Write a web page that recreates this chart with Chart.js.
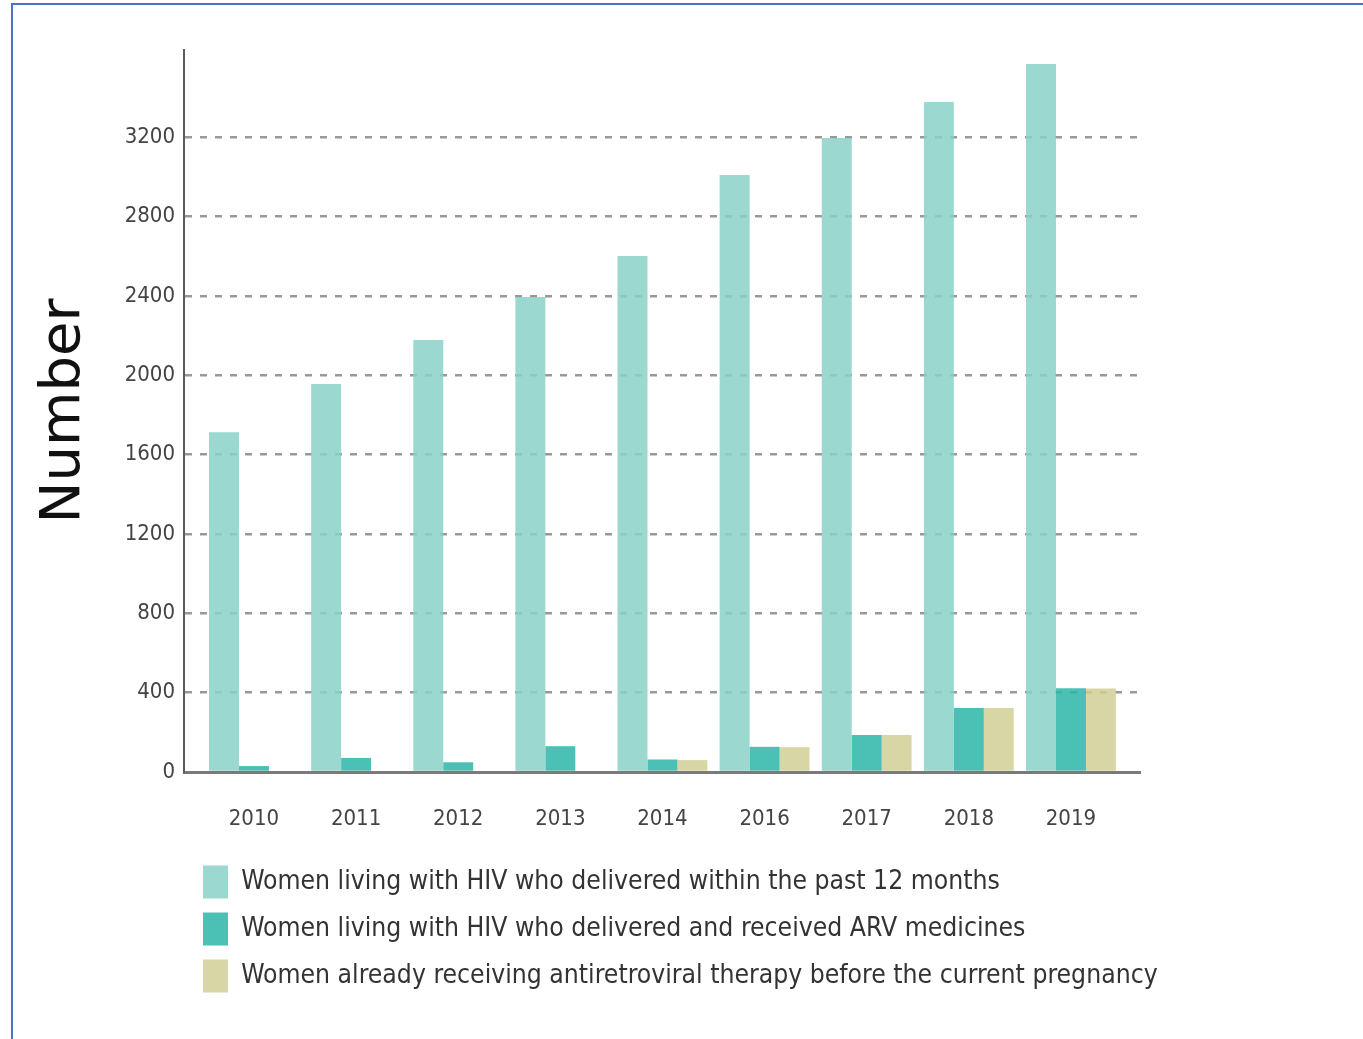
<!DOCTYPE html>
<html><head><meta charset="utf-8">
<script src="https://cdn.jsdelivr.net/npm/chart.js@4/dist/chart.umd.min.js"></script>
<style>
html,body{margin:0;padding:0;background:#fff;overflow:hidden;width:1363px;height:1039px;}
#frame{position:absolute;left:11px;top:3px;width:1420px;height:1100px;border:2px solid #4a72c8;box-sizing:border-box;}
#c{position:absolute;left:0;top:0;}
</style></head><body>
<div id="frame"></div>
<canvas id="c" width="1363" height="1039"></canvas>
<script>
const years = ['2010','2011','2012','2013','2014','2016','2017','2018','2019'];
const deliveredHIV = [1712, 1955, 2177, 2394, 2601, 3009, 3195, 3377, 3568];
const receivedARV  = [30, 71, 49, 130, 63, 127, 186, 323, 422];
const alreadyART   = [null, null, null, null, 60, 125, 186, 322, 421];
const seriesNames = [
  'Women living with HIV who delivered within the past 12 months',
  'Women living with HIV who delivered and received ARV medicines',
  'Women already receiving antiretroviral therapy before the current pregnancy'
];
const yTickValues = [0, 400, 800, 1200, 1600, 2000, 2400, 2800, 3200];
const yAxisMax = 3639;

const seriesValues = [deliveredHIV, receivedARV, alreadyART];
const seriesColors = ['rgba(137,209,199,0.85)', 'rgba(43,181,167,0.85)', 'rgba(210,207,150,0.85)'];
const narrow = "'Liberation Sans Narrow', 'DejaVu Sans Condensed', 'Roboto Condensed', sans-serif";

const legendPlacer = {
  id: 'legendPlacer',
  beforeDraw(chart) {
    const l = chart.legend;
    if (!l) return;
    l.left = 189; l.right = 1363; l.top = 851.5; l.bottom = 1039;
  }
};

new Chart(document.getElementById('c'), {
  type: 'bar',
  data: {
    datasets: seriesNames.map((name, k) => ({
      label: name,
      data: seriesValues[k].map((v, i) => ({x: i, y: v})),
      backgroundColor: seriesColors[k],
      borderWidth: 0,
      categoryPercentage: 0.88,
      barPercentage: 1.0
    }))
  },
  options: {
    responsive: false,
    animation: false,
    devicePixelRatio: 1,
    layout: {padding: {left: 0, top: 50, right: 223, bottom: 0}},
    plugins: {
      tooltip: {enabled: false},
      legend: {
        position: 'chartArea',
        align: 'start',
        labels: {
          boxWidth: 25, boxHeight: 33, padding: 14,
          color: '#333',
          font: {family: narrow, size: 26.3}
        }
      }
    },
    scales: {
      x: {
        type: 'linear',
        min: -0.685, max: 8.676,
        offset: false,
        grid: {display: false},
        border: {display: true, color: '#7a7a7a', width: 3},
        ticks: {
          stepSize: 1, includeBounds: false, autoSkip: false, maxRotation: 0,
          padding: 26, color: '#444',
          font: {family: narrow, size: 22},
          callback: v => (Number.isInteger(v) && years[v] !== undefined) ? years[v] : ''
        },
        afterFit: s => { s.height = 267; }
      },
      y: {
        min: 0, max: yAxisMax,
        grid: {color: '#999', lineWidth: 2.5, drawTicks: false},
        border: {display: true, color: '#5a5a5a', width: 2, dash: [7, 8]},
        ticks: {padding: 9, color: '#444', font: {family: narrow, size: 22},
          callback: v => String(v)},
        afterBuildTicks: s => { s.ticks = yTickValues.map(v => ({value: v})); },
        afterFit: s => { s.width = 184; },
        title: {
          display: true, text: 'Number', color: '#111',
          font: {family: "'DejaVu Sans', sans-serif", size: 56},
          padding: {top: 31, bottom: 0}
        }
      }
    }
  },
  plugins: [legendPlacer]
});
</script>
</body></html>
